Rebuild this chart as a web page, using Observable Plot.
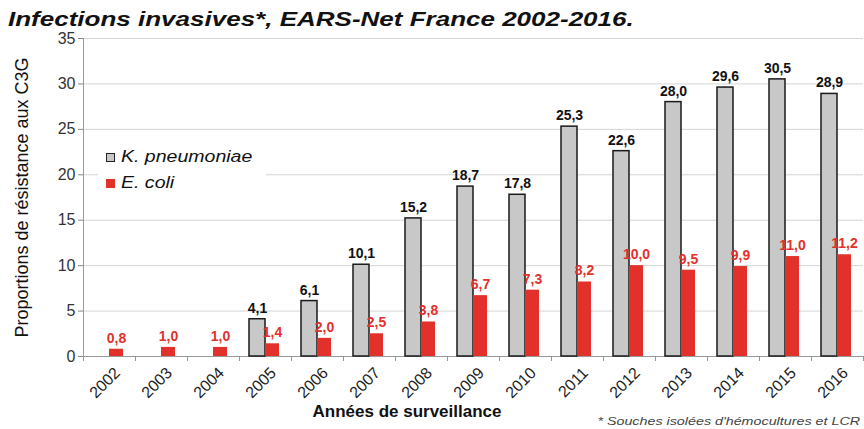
<!DOCTYPE html>
<html>
<head>
<meta charset="utf-8">
<script src="https://cdn.jsdelivr.net/npm/d3@7"></script>
<script src="https://cdn.jsdelivr.net/npm/@observablehq/plot@0.6"></script>
<style>
  body { margin: 0; background: #fff; font-family: "Liberation Sans", Arial, sans-serif; }
  #wrap { position: relative; width: 864px; height: 429px; overflow: hidden; }
  #title { height: 30px; font-size: 20px; font-weight: bold; font-style: italic; color: #111; padding-left: 8px; line-height: 38px; white-space: nowrap; }
  #title span { display: inline-block; transform: scaleX(1.3); transform-origin: left center; }
  #legend { position: absolute; left: 98px; top: 142px; width: 168px; height: 58px; background: #fff; font-size: 16px; font-style: italic; color: #111; }
  .li { position: absolute; left: 8px; display: flex; align-items: center; white-space: nowrap; }
  .li span { display: inline-block; transform: scaleX(1.22); transform-origin: left center; }
  .sw { width: 9px; height: 9px; margin-right: 6px; box-sizing: border-box; }
  #xlabel { position: absolute; left: 307px; width: 200px; top: 402px; text-align: center; font-size: 17px; font-weight: bold; color: #111; white-space: nowrap; }
  #foot { position: absolute; right: 4px; top: 415px; font-size: 11px; font-style: italic; color: #444; white-space: nowrap; transform: scaleX(1.3); transform-origin: right center; }
  svg text { font-family: "Liberation Sans", Arial, sans-serif; }
</style>
</head>
<body>
<div id="wrap">
  <div id="title"><span>Infections invasives*, EARS-Net France 2002-2016.</span></div>
  <div id="chart"></div>
  <div id="legend">
    <div class="li" style="top:6px"><div class="sw" style="background:#c8c8c8;border:1.5px solid #222"></div><span>K. pneumoniae</span></div>
    <div class="li" style="top:32px"><div class="sw" style="background:#e2312b"></div><span>E. coli</span></div>
  </div>
  <div id="xlabel">Années de surveillance</div>
  <div id="foot">* Souches isolées d'hémocultures et LCR</div>
</div>
<script>
const years = ["2002","2003","2004","2005","2006","2007","2008","2009","2010","2011","2012","2013","2014","2015","2016"];
const kpneumoniae = [null, null, null, 4.1, 6.1, 10.1, 15.2, 18.7, 17.8, 25.3, 22.6, 28.0, 29.6, 30.5, 28.9];
const ecoli = [0.8, 1.0, 1.0, 1.4, 2.0, 2.5, 3.8, 6.7, 7.3, 8.2, 10.0, 9.5, 9.9, 11.0, 11.2];
const yTicks = [0, 5, 10, 15, 20, 25, 30, 35];

const kp = years.map((y, i) => ({year: y, v: kpneumoniae[i]})).filter(d => d.v != null);
const ec = years.map((y, i) => ({year: y, v: ecoli[i]}));
const fmt = v => v.toFixed(1).replace(".", ",");

const chart = Plot.plot({
  width: 864,
  height: 399,
  marginLeft: 83,
  marginRight: 1,
  marginTop: 8,
  marginBottom: 73,
  style: {background: "transparent", fontSize: "14px", color: "#222"},
  x: {domain: years, padding: 0, label: null},
  y: {domain: [0, 35], label: null},
  marks: [
    Plot.gridY(yTicks, {stroke: "#d4d4d4", strokeOpacity: 1}),
    Plot.axisY(yTicks, {tickSize: 5, tickPadding: 3, fontSize: 16, stroke: "#888", color: "#333", label: null}),
    Plot.axisY({ticks: [], label: "Proportions de résistance aux C3G", labelAnchor: "center", labelArrow: "none", labelOffset: 68, fontSize: 18, tickSize: 0, color: "#111"}),
    Plot.axisX({tickSize: 0, tickRotate: -45, fontSize: 16, dx: 8, dy: 2, color: "#222", label: null}),
    Plot.ruleY([0], {stroke: "#999"}),
    Plot.ruleX([0], {x: () => years[0], dx: -26, y1: 35, y2: 0, stroke: "#999"}),
    Plot.ruleX(years, {x: d => d, dx: -26, y1: 0, y2: -0.55, stroke: "#999"}),
    Plot.ruleX([years[years.length - 1]], {x: d => d, dx: 26, y1: 0, y2: -0.55, stroke: "#999"}),
    Plot.barY(kp, {x: "year", y: "v", fill: "#c8c8c8", stroke: "#1a1a1a", strokeWidth: 1.5, insetLeft: 10, insetRight: 26}),
    Plot.barY(ec, {x: "year", y: "v", fill: "#e2312b", insetLeft: 26, insetRight: 12}),
    Plot.text(kp, {x: "year", y: "v", text: d => fmt(d.v), dx: -8, dy: -11, fontSize: 14, fontWeight: "bold", fill: "#111"}),
    Plot.text(ec, {x: "year", y: "v", text: d => fmt(d.v), dx: 7, dy: -11, fontSize: 14, fontWeight: "bold", fill: "#e2312b"})
  ]
});
document.getElementById("chart").appendChild(chart);
</script>
</body>
</html>
